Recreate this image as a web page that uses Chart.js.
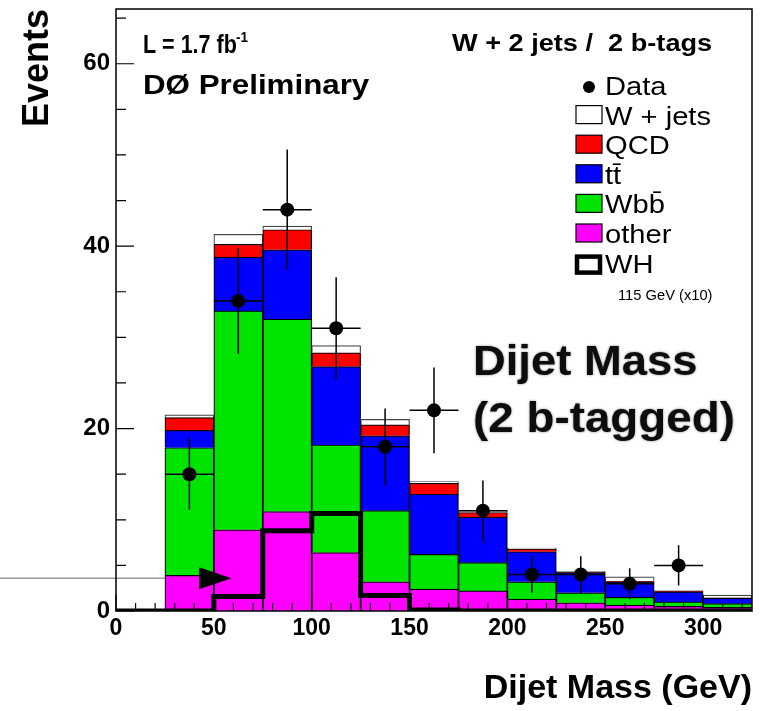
<!DOCTYPE html>
<html>
<head>
<meta charset="utf-8">
<script src="https://cdn.jsdelivr.net/npm/chart.js@4.4.0/dist/chart.umd.min.js"></script>
<style>
  html, body { margin: 0; padding: 0; background: #fff; }
</style>
</head>
<body>
<canvas id="myChart" width="764" height="711"></canvas>
<script>
// dijet mass bins, 25 GeV wide
const binEdges = [0, 25, 50, 75, 100, 125, 150, 175, 200, 225, 250, 275, 300, 325]
const binCenters = [12.5, 37.5, 62.5, 87.5, 112.5, 137.5, 162.5, 187.5, 212.5, 237.5, 262.5, 287.5, 312.5]

// background contributions (stacked, bottom to top)
const other = [0, 3.9, 8.9, 10.9, 6.4, 3.2, 2.4, 2.2, 1.3, 0.9, 0.65, 0.5, 0.4]
const wbb = [0, 14.0, 24.0, 21.1, 11.8, 7.8, 3.8, 3.1, 1.9, 1.1, 0.85, 0.5, 0.4]
const ttbar = [0, 1.9, 5.9, 7.6, 8.6, 8.2, 6.6, 5.0, 3.3, 2.2, 1.7, 1.1, 0.6]
const qcd = [0, 1.4, 1.4, 2.2, 1.5, 1.2, 1.2, 0.5, 0.3, 0.05, 0.05, 0.05, 0.05]
const wjets = [0, 0.3, 1.1, 0.4, 0.8, 0.6, 0.2, 0.2, 0.1, 0.1, 0.5, 0.1, 0.3]

// WH signal, 115 GeV, scaled x10
const wh = [0, 0, 1.6, 8.8, 10.7, 1.7, 0.1, 0, 0, 0, 0, 0, 0]

// data and its error bars
const dataCounts = [null, 15, 34, 44, 31, 18, 22, 11, 4, 4, 3, 5, null]
const dataErr = [null, 3.9, 5.8, 6.6, 5.6, 4.2, 4.7, 3.3, 2.0, 2.0, 1.7, 2.2, null]

const yTicks = [0, 20, 40, 60]
const xTicks = [0, 50, 100, 150, 200, 250, 300]

const family = '"Liberation Sans", Arial, Helvetica, sans-serif'

const barSet = function (label, values, color, border) {
    return {
        type: 'bar',
        label: label,
        data: values.map((v, i) => ({ x: binCenters[i], y: v })),
        backgroundColor: color,
        borderColor: border || '#000',
        borderWidth: 1.2,
        barPercentage: 1,
        categoryPercentage: 1,
        stack: 'mc'
    }
}

const dataPoints = []
binCenters.forEach((c, i) => {
    if (dataCounts[i] !== null) dataPoints.push({ x: c, y: dataCounts[i], err: dataErr[i], half: (binEdges[i + 1] - binEdges[i]) / 2 })
})

const whPoints = binEdges.map((e, i) => ({ x: e, y: i < wh.length ? wh[i] : wh[wh.length - 1] }))

const stretchText = function (ctx, text, x, y, font, sx, align) {
    ctx.save()
    ctx.font = font
    ctx.translate(x, y)
    ctx.scale(sx, 1)
    ctx.textAlign = align || 'left'
    ctx.textBaseline = 'alphabetic'
    ctx.fillText(text, 0, 0)
    ctx.restore()
}

// frame, root-style ticks, error bars, legend and labels
const decorations = {
    id: 'decorations',
    beforeDatasetsDraw(chart) {
        const ctx = chart.ctx
        const xs = chart.scales.x, ys = chart.scales.y
        // arrow guide line (sits behind the histogram)
        ctx.save()
        ctx.strokeStyle = '#666'
        ctx.lineWidth = 1
        ctx.beginPath()
        ctx.moveTo(0, ys.getPixelForValue(3.6))
        ctx.lineTo(xs.getPixelForValue(45), ys.getPixelForValue(3.6))
        ctx.stroke()
        ctx.restore()
    },
    afterDatasetsDraw(chart) {
        const ctx = chart.ctx
        const xs = chart.scales.x, ys = chart.scales.y
        const a = chart.chartArea

        // error bars
        ctx.save()
        ctx.strokeStyle = '#000'
        ctx.lineWidth = 1.5
        dataPoints.forEach(p => {
            const px = xs.getPixelForValue(p.x)
            const py = ys.getPixelForValue(p.y)
            ctx.beginPath()
            ctx.moveTo(xs.getPixelForValue(p.x - p.half), py)
            ctx.lineTo(xs.getPixelForValue(p.x + p.half), py)
            ctx.moveTo(px, ys.getPixelForValue(p.y - p.err))
            ctx.lineTo(px, ys.getPixelForValue(p.y + p.err))
            ctx.stroke()
        })
        ctx.restore()

        // arrow head
        ctx.save()
        ctx.fillStyle = '#000'
        const ay = ys.getPixelForValue(3.6)
        ctx.beginPath()
        ctx.moveTo(xs.getPixelForValue(42.5), ay - 11)
        ctx.lineTo(xs.getPixelForValue(59), ay)
        ctx.lineTo(xs.getPixelForValue(42.5), ay + 11)
        ctx.closePath()
        ctx.fill()
        ctx.restore()

        // ticks drawn inside the frame
        ctx.save()
        ctx.strokeStyle = '#000'
        ctx.lineWidth = 1.2
        ctx.beginPath()
        for (let v = 0; v <= xs.max; v += 10) {
            const px = xs.getPixelForValue(v)
            const len = v % 50 === 0 ? 16 : 8
            ctx.moveTo(px, a.bottom)
            ctx.lineTo(px, a.bottom - len)
        }
        for (let v = 0; v <= ys.max; v += 5) {
            const py = ys.getPixelForValue(v)
            const len = v % 20 === 0 ? 18 : 10
            ctx.moveTo(a.left, py)
            ctx.lineTo(a.left + len, py)
        }
        ctx.stroke()
        ctx.lineWidth = 1.5
        ctx.strokeRect(a.left, a.top, a.right - a.left, a.bottom - a.top)
        ctx.restore()
    },
    afterDraw(chart) {
        const ctx = chart.ctx
        ctx.save()
        ctx.fillStyle = '#000'

        // top-left labels
        stretchText(ctx, 'L = 1.7 fb', 143, 53, 'bold 25px ' + family, 0.86)
        stretchText(ctx, '-1', 236, 42, 'bold 15px ' + family, 0.9)
        stretchText(ctx, 'DØ Preliminary', 143, 94, 'bold 27px ' + family, 1.16)
        stretchText(ctx, 'W + 2 jets /  2 b-tags', 452, 51, 'bold 23px ' + family, 1.18)

        // big overlay text
        ctx.save()
        ctx.fillStyle = '#0d0d0d'
        ctx.shadowColor = 'rgba(0,0,0,0.5)'
        ctx.shadowBlur = 2.5
        stretchText(ctx, 'Dijet Mass', 473, 375, 'bold 42px ' + family, 1.08)
        stretchText(ctx, '(2 b-tagged)', 473, 432, 'bold 42px ' + family, 1.09)
        ctx.restore()

        // legend
        const ds = chart.data.datasets
        const rows = [
            { label: 'Data', kind: 'dot' },
            { label: 'W + jets', fill: ds[6].backgroundColor },
            { label: 'QCD', fill: ds[5].backgroundColor },
            { label: 'tt̄', fill: ds[4].backgroundColor },
            { label: 'Wbb̄', fill: ds[3].backgroundColor },
            { label: 'other', fill: ds[2].backgroundColor },
            { label: 'WH', kind: 'line' }
        ]
        rows.forEach((r, i) => {
            const base = 95 + i * 29.6
            if (r.kind === 'dot') {
                ctx.beginPath()
                ctx.arc(589, base - 8, 6, 0, Math.PI * 2)
                ctx.fill()
            } else if (r.kind === 'line') {
                ctx.lineWidth = 4.5
                ctx.strokeStyle = '#000'
                ctx.strokeRect(577, base - 16, 23, 16)
            } else {
                ctx.fillStyle = r.fill
                ctx.fillRect(576, base - 19, 26, 18)
                ctx.lineWidth = 1.2
                ctx.strokeStyle = '#000'
                ctx.strokeRect(576, base - 19, 26, 18)
            }
            ctx.fillStyle = '#000'
            stretchText(ctx, r.label, 605, base, '26px ' + family, 1.12)
        })
        stretchText(ctx, '115 GeV (x10)', 618, 300, '14px ' + family, 1.05)
        ctx.restore()
    }
}

const chartManagement = function () {
    const ctx = document.getElementById('myChart')
    new Chart(ctx, {
        type: 'bar',
        data: {
            datasets: [
                {
                    type: 'line',
                    label: 'Data',
                    data: dataPoints,
                    showLine: false,
                    pointRadius: 7,
                    pointBackgroundColor: '#000',
                    pointBorderWidth: 0,
                    stack: 'data'
                },
                {
                    type: 'line',
                    label: 'WH',
                    data: whPoints,
                    stepped: true,
                    borderColor: '#000',
                    borderWidth: 5,
                    pointRadius: 0,
                    fill: false,
                    stack: 'wh'
                },
                barSet('other', other, '#ff00ff'),
                barSet('Wbb', wbb, '#00e400'),
                barSet('ttbar', ttbar, '#0000ff'),
                barSet('QCD', qcd, '#ff0000'),
                barSet('W + jets', wjets, '#ffffff', '#444')
            ]
        },
        options: {
            responsive: false,
            animation: false,
            devicePixelRatio: 1,
            layout: { padding: { top: 9, right: 12, left: 0, bottom: 0 } },
            plugins: {
                legend: { display: false },
                tooltip: { enabled: false }
            },
            scales: {
                x: {
                    type: 'linear',
                    min: 0,
                    max: 325,
                    offset: false,
                    stacked: true,
                    grid: { display: false, drawTicks: false },
                    border: { display: false },
                    afterBuildTicks: s => { s.ticks = xTicks.map(v => ({ value: v })) },
                    afterFit: s => { s.height = 100; s.paddingLeft = 0; s.paddingRight = 0 },
                    ticks: {
                        color: '#000',
                        padding: 4,
                        maxRotation: 0,
                        autoSkip: false,
                        font: { family: family, size: 23, weight: 'bold' }
                    },
                    title: {
                        display: true,
                        text: 'Dijet Mass (GeV)',
                        align: 'end',
                        color: '#000',
                        font: { family: family, size: 34, weight: 'bold', lineHeight: 1 },
                        padding: { top: 0, bottom: 5 }
                    }
                },
                y: {
                    min: 0,
                    max: 66,
                    stacked: true,
                    grid: { display: false, drawTicks: false },
                    border: { display: false },
                    afterBuildTicks: s => { s.ticks = yTicks.map(v => ({ value: v })) },
                    afterFit: s => { s.width = 116; s.paddingTop = 0; s.paddingBottom = 0 },
                    ticks: {
                        color: '#000',
                        padding: 6,
                        font: { family: family, size: 24, weight: 'bold' }
                    },
                    title: {
                        display: true,
                        text: 'Events',
                        align: 'end',
                        color: '#000',
                        font: { family: family, size: 36, weight: 'bold', lineHeight: 1 },
                        padding: { top: 20, bottom: 0 }
                    }
                }
            }
        },
        plugins: [decorations]
    })
}
chartManagement()
</script>
</body>
</html>
